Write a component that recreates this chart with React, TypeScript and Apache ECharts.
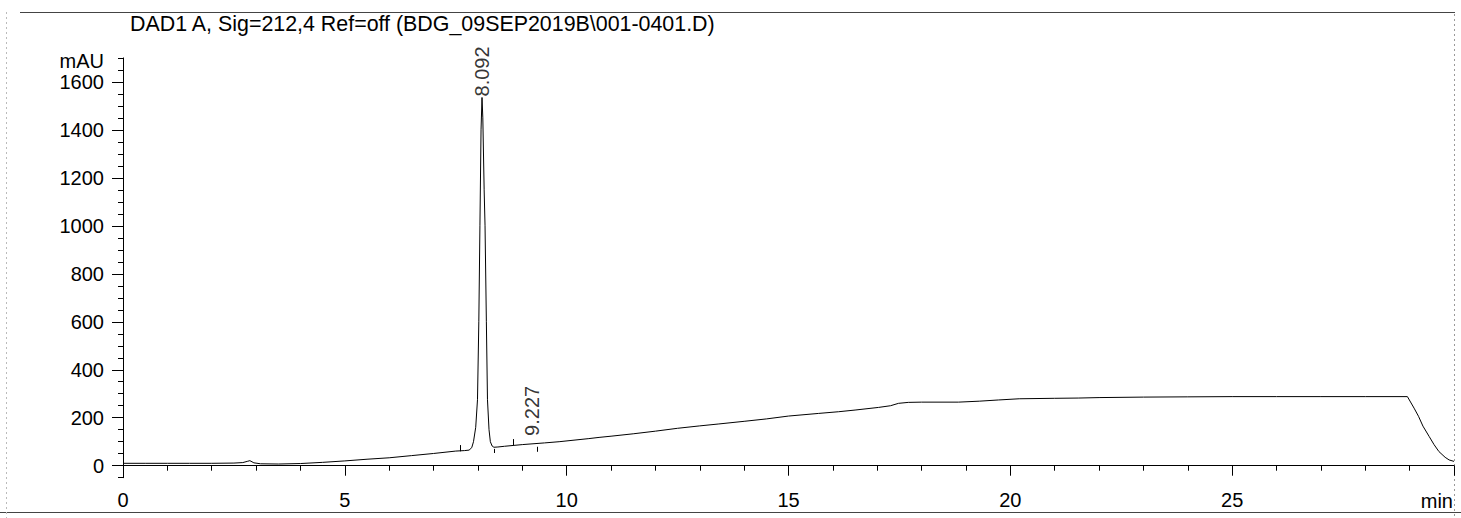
import React, { useEffect, useRef } from "react";
import * as echarts from "echarts";

// Chromatogram trace: retention time (min) and signal (mAU)
const times = [
  0, 0.5, 1, 1.5, 2, 2.5, 2.7, 2.8, 2.86, 2.95, 3.1, 3.5, 4, 4.5, 5, 5.5, 6, 6.5, 7, 7.5,
  7.7, 7.8, 7.86, 7.9, 7.95, 7.99, 8.02, 8.045, 8.07, 8.092, 8.11, 8.14, 8.16, 8.19, 8.215,
  8.25, 8.28, 8.32, 8.36, 8.45, 8.6, 9, 9.5, 9.83, 10.5, 10.73, 11, 11.5, 12, 12.5, 13,
  13.43, 14, 14.5, 15, 15.68, 16.13, 16.5, 17.03, 17.3, 17.48, 17.7, 18, 18.83, 19.3,
  19.73, 20.2, 21, 21.53, 22, 23, 24, 25, 26, 27, 28, 28.95, 29.1, 29.2, 29.3, 29.44,
  29.55, 29.66, 29.8, 29.89, 30,
];
const signal = [
  10, 10, 10, 10, 10, 11, 13, 18, 21, 12, 8, 7, 9, 14, 20, 27, 33, 42, 51, 61,
  63, 65, 75, 100, 160, 275, 600, 1000, 1400, 1535, 1450, 1150, 1000, 600, 275,
  150, 100, 82, 77, 78, 81, 88, 95, 100, 113, 118, 123, 133, 144, 156, 166,
  174, 185, 195, 207, 218, 225, 232, 243, 250, 260, 264, 265, 265, 269,
  274, 279, 281, 282, 284, 286, 287, 288, 288, 288, 288, 288, 240, 206, 165, 122,
  88, 59, 35, 24, 18,
];

// Peak annotations
const peakLabels = ["8.092", "9.227"];
const peakTimes = [8.092, 9.227];
const peakLabelBase = [1535, 91];
const peakLabelGap = [1, 8];

// Integration start/end markers
const markerTimes = [7.6, 8.37, 8.8, 9.34];
const markerLow = [60, 53, 86, 58];
const markerHigh = [86, 70, 111, 79];

// Axis ticks
const yMajorTicks = [0, 200, 400, 600, 800, 1000, 1200, 1400, 1600];
const xMin = 0;
const xMax = 30;
const yMin = -50;
const yMax = 1700;

const titleText = "DAD1 A, Sig=212,4 Ref=off (BDG_09SEP2019B\\001-0401.D)";
const FONT = "'Liberation Sans', Arial, sans-serif";

export default function App() {
  const ref = useRef<HTMLDivElement>(null);
  useEffect(() => {
    if (!ref.current) return;
    const chart = echarts.init(ref.current, null, { renderer: "svg" });
    const option: any = {
      animation: false,
      backgroundColor: "#fff",
      textStyle: { fontFamily: FONT },
      grid: { left: 123, right: 7, top: 57.9, bottom: 40.3, containLabel: false },
      xAxis: {
        type: "value",
        min: xMin,
        max: xMax,
        interval: 5,
        axisLine: { show: true, lineStyle: { color: "#000", width: 1 } },
        axisTick: { show: true, length: 10, lineStyle: { color: "#000", width: 1 } },
        minorTick: { show: true, splitNumber: 5, length: 5, lineStyle: { color: "#000", width: 1 } },
        axisLabel: {
          margin: 12,
          fontSize: 20,
          color: "#000",
          fontFamily: FONT,
          formatter: (v: number) => (v === xMax ? "" : String(v)),
        },
        splitLine: { show: false },
        minorSplitLine: { show: false },
      },
      yAxis: [
        {
          type: "value",
          min: yMin,
          max: yMax,
          position: "left",
          axisLine: { show: true, onZero: false, lineStyle: { color: "#000", width: 1 } },
          axisTick: { show: true, length: 11, customValues: yMajorTicks, lineStyle: { color: "#000", width: 1 } },
          axisLabel: {
            show: true,
            margin: 19,
            fontSize: 20,
            color: "#000",
            fontFamily: FONT,
            customValues: yMajorTicks,
            formatter: (v: number) => String(v),
          },
          splitLine: { show: false },
        },
        {
          type: "value",
          min: yMin,
          max: yMax,
          interval: 50,
          position: "left",
          axisLine: { show: false },
          axisTick: { show: true, length: 5, lineStyle: { color: "#000", width: 1 } },
          axisLabel: { show: false },
          splitLine: { show: false },
        },
      ],
      series: [
        {
          type: "line",
          yAxisIndex: 0,
          data: times.map((t, i) => [t, signal[i]]),
          showSymbol: false,
          symbol: "none",
          lineStyle: { color: "#000", width: 1 },
          silent: true,
          markLine: {
            silent: true,
            symbol: "none",
            label: { show: false },
            lineStyle: { color: "#000", width: 1, type: "solid" },
            data: markerTimes.map((t, i) => [
              { coord: [t, markerLow[i]] },
              { coord: [t, markerHigh[i]] },
            ]),
          },
        },
        {
          type: "scatter",
          yAxisIndex: 0,
          symbolSize: 0,
          silent: true,
          data: peakTimes.map((t, i) => ({
            value: [t, peakLabelBase[i]],
            name: peakLabels[i],
            label: { distance: peakLabelGap[i] },
          })),
          label: {
            show: true,
            formatter: "{b}",
            position: "top",
            distance: 1,
            rotate: 90,
            align: "left",
            verticalAlign: "middle",
            fontSize: 20,
            color: "#000",
            fontFamily: FONT,
          },
        },
      ],
      graphic: [
        {
          type: "text",
          x: 130,
          y: 24,
          style: { text: titleText, fontSize: 21.4, fontFamily: FONT, fill: "#000", align: "left", verticalAlign: "middle" },
        },
        {
          type: "text",
          x: 104,
          y: 61,
          style: { text: "mAU", fontSize: 20, fontFamily: FONT, fill: "#000", align: "right", verticalAlign: "middle" },
        },
        {
          type: "text",
          x: 1453,
          y: 501,
          style: { text: "min", fontSize: 20, fontFamily: FONT, fill: "#000", align: "right", verticalAlign: "middle" },
        },
        {
          type: "line",
          shape: { x1: 20, y1: 12.5, x2: 1455, y2: 12.5 },
          style: { stroke: "#444", lineWidth: 1 },
        },
        {
          type: "line",
          shape: { x1: 0, y1: 512.5, x2: 1461, y2: 512.5 },
          style: { stroke: "#444", lineWidth: 1 },
        },
        {
          type: "line",
          shape: { x1: 6.5, y1: 12, x2: 6.5, y2: 518 },
          style: { stroke: "#bbb", lineWidth: 1, lineDash: [2, 3] },
        },
        {
          type: "line",
          shape: { x1: 1454.5, y1: 14, x2: 1454.5, y2: 518 },
          style: { stroke: "#999", lineWidth: 1, lineDash: [2, 3] },
        },
      ],
    };
    chart.setOption(option);
    return () => chart.dispose();
  }, []);
  return (
    <div
      ref={ref}
      style={{ position: "fixed", left: 0, top: 0, width: 1461, height: 518, background: "#fff" }}
    />
  );
}
